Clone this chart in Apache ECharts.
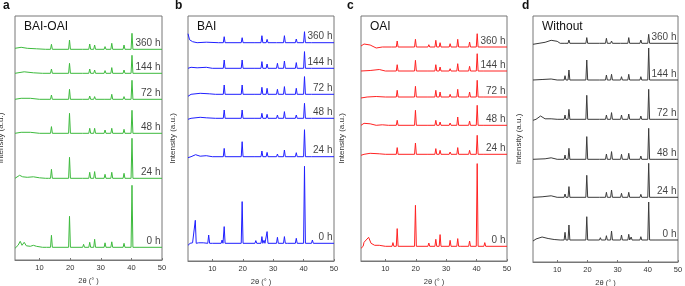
<!DOCTYPE html>
<html><head><meta charset="utf-8">
<script src="https://cdn.jsdelivr.net/npm/echarts@6/dist/echarts.min.js"></script>
<style>html,body{margin:0;padding:0;background:#fff}#c{width:685px;height:286px}</style>
</head><body><div id="c"></div>
<script>
// ---------------- data ----------------
const panelLetters = ['a', 'b', 'c', 'd'];
const panelTitles = ['BAI-OAI', 'BAI', 'OAI', 'Without'];
const timeLabels = ['360 h', '144 h', '72 h', '48 h', '24 h', '0 h'];
const xTickValues = [10, 20, 30, 40, 50];

// trace baselines (stack offsets, a.u.)
const offsetsA = [210.7, 186.7, 160.7, 126.7, 81.7, 12.7];
const offsetsB = [218.3, 192.7, 166.7, 142.7, 104.3, 17.7];
const offsetsC = [214, 190, 164, 135.7, 106.7, 14.7];
const offsetsD = [218.7, 182, 142.7, 102.7, 64.7, 22];

// peak positions (2θ) per panel
const peaksA = [12.6, 13.9, 19.8, 24.4, 26.4, 28.0, 31.4, 33.6, 37.6, 40.2, 42.8];
const peaksB = [4.4, 8.8, 13.2, 13.9, 19.8, 24.3, 26.3, 27.0, 28.0, 31.4, 33.7, 34.5, 37.6, 40.3, 42.9];
const peaksC = [12.5, 13.9, 19.9, 24.3, 26.6, 28.0, 31.3, 33.8, 34.5, 37.7, 40.2, 42.7];
const peaksD = [12.6, 13.9, 19.8, 24.3, 26.3, 28.0, 31.3, 33.7, 34.5, 37.7, 40.3, 42.7];

// peak heights per trace (360h, 144h, 72h, 48h, 24h, 0h)
const heightsA = [
  [0, 5, 9.3, 1, 5.3, 4.3, 2.7, 6, 4.3, 16, 0],
  [0, 4.3, 10, 1, 4.3, 3.3, 2.7, 5.7, 3.3, 18, 0],
  [0, 4.3, 10, 1, 3.3, 2.7, 2, 5, 2.7, 19, 0],
  [0, 6.7, 20, 1, 5, 5, 3.3, 5, 4, 23, 0.5],
  [0.5, 9, 21, 2, 6, 6.7, 4, 6, 5, 40, 1.5],
  [2, 12, 31, 3, 5, 8, 4.5, 5.5, 4, 62, 2]
];
const heightsB = [
  [0, 0, 0, 6, 5, 2, 7, 0, 3.3, 2, 7, 0, 3.7, 11, 1],
  [0, 0, 0, 8.3, 8.3, 1.7, 6.7, 0, 4.3, 5, 7.3, 0, 5.7, 16.7, 1.7],
  [0, 0, 0, 9.3, 9.3, 1.5, 7, 0, 6, 5, 7.7, 0, 6, 17.7, 1],
  [0, 0, 0, 8.3, 8.3, 1, 5, 0, 4, 3.3, 6.7, 0, 3.3, 15, 1],
  [0, 0, 0, 8.3, 15, 1, 5.7, 0, 4.3, 2.7, 6.7, 0, 4, 27, 1],
  [23, 8.3, 3.3, 16.7, 41.7, 2.7, 6.7, 3, 11.7, 6, 6.7, 2, 5, 77, 3.3]
];
const heightsC = [
  [0, 6, 7.7, 2.3, 6.7, 4.3, 3.3, 7.7, 0, 5, 13.3, 1],
  [0, 6.3, 10.7, 1.7, 6.3, 4, 2.3, 7.3, 0, 4.7, 17.3, 1],
  [0, 6.7, 10.7, 1.5, 6.7, 5, 2.7, 7.7, 0, 5, 16.7, 1],
  [0, 5, 15, 1, 5, 3.3, 2.3, 8.3, 0, 4.3, 20, 1],
  [0, 6.7, 11.3, 1.5, 5.7, 4, 2.3, 6.7, 0, 4, 19, 1],
  [3.7, 17.7, 41, 3.3, 7, 11.7, 6, 7.7, 2, 5.3, 82.7, 3.7]
];
const heightsD = [
  [1.7, 3.3, 5.7, 1.5, 5, 2.3, 1.5, 5.7, 0, 3.3, 9, 0],
  [4.3, 10, 20, 1.7, 5, 5.7, 3.3, 5.7, 0, 3.3, 32, 0.5],
  [4.3, 10, 24, 1.7, 4.3, 6.7, 4.3, 5.3, 0, 3.3, 30, 0.5],
  [4.3, 11, 22.7, 2, 5.3, 7.7, 5, 6, 0, 3.3, 31, 1],
  [3.3, 10.7, 22, 1.7, 5, 7.3, 4, 5, 0, 3, 34, 1],
  [7.7, 15, 23.3, 2.3, 4.3, 9, 5, 5.7, 3, 3.3, 38, 1.7]
];

// background (amorphous humps) per trace: [2θ, level above baseline]
const bgA = [
  [[2, 1], [4, 2], [6, 1], [9, 0.5], [12, 0], [50, 0]],
  [[2, 0], [5, 1.5], [8, 0.5], [11, 0], [50, 0]],
  [[2, 0], [4, 1], [7, 1], [10, 0], [50, 0]],
  [[2, 0], [4, 1], [7, 1], [10, 0], [50, 0]],
  [[2, 0], [3.5, 3], [4.5, 1.5], [6, 1], [8, 1.5], [10, 0.5], [12, 0], [50, 0]],
  [[2, -1], [3, 2], [3.7, 6], [4.3, 2], [5, 5], [5.7, 1.5], [7, 1], [8, 2], [9, 1], [11, 0], [50, 0]]
];
const bgB = [
  [[2, 9], [2.5, 3], [3.5, 1], [5, 0], [8, 0.5], [12, 0], [50, 0]],
  [[2, 0], [3, 1], [5, 0.5], [8, 1], [10, 0], [50, 0]],
  [[2, -2], [3, 0], [6, 1], [9, 0.5], [11, 0], [50, 0]],
  [[2, -1], [3, 0], [6, 1], [8, 0.5], [11, 0], [50, 0]],
  [[2, -1], [3, 0], [4.5, 2], [6, 0.5], [8, 1], [10, 0], [50, 0]],
  [[2, -2], [2.7, 0], [3.5, 0.5], [5.5, 0.5], [7, 0.5], [10, 0], [50, 0]]
];
const bgC = [
  [[2, 1], [3, 3], [5, 2], [7, -1], [9, 0], [12, 0], [50, 0]],
  [[2, 0], [5, 0.5], [8, 1.5], [10, 0], [50, 0]],
  [[2, -1], [4, 0], [7, 0.5], [10, 0], [50, 0]],
  [[2, 0], [3, 2], [5, 1.5], [7, 0], [9, 0.5], [11, 0], [50, 0]],
  [[2, -1], [3, 0], [5, 1], [8, 0.5], [10, 0], [50, 0]],
  [[2, -2], [2.7, 0], [3, 4], [3.6, 3], [4.5, 9], [5.3, 3], [6.5, 1], [8, 1], [10, 0], [50, 0]]
];
const bgD = [
  [[2, -1], [4, 0], [6, 1], [8, 3], [10, 2], [11, 0], [50, 0]],
  [[2, 0], [5, 0.5], [8, 1], [10, 0], [50, 0]],
  [[2, -1], [3, 0], [4.5, 3.3], [6, 0.5], [8, 0.5], [10, 0], [50, 0]],
  [[2, 0], [6, 0.5], [8, 1.5], [10, 0], [50, 0]],
  [[2, 0], [5, 0.5], [8, 1.5], [10, 0], [50, 0]],
  [[2, -1], [3, 1], [5, 3], [7, 1.5], [9, 0.5], [11, 0], [50, 0]]
];

// ---------------- layout / style ----------------
const panels = [
  {offsets: offsetsA, peaks: peaksA, heights: heightsA, bg: bgA, color: '#3dba3d',
   grid: {left: 15, top: 16, width: 147, height: 244}, yNameGap: 10, letterX: 3},
  {offsets: offsetsB, peaks: peaksB, heights: heightsB, bg: bgB, color: '#1f1fff',
   grid: {left: 188, top: 16, width: 146, height: 245}, yNameGap: 11, letterX: 175},
  {offsets: offsetsC, peaks: peaksC, heights: heightsC, bg: bgC, color: '#ff2222',
   grid: {left: 361, top: 16, width: 146, height: 245}, yNameGap: 15, letterX: 347},
  {offsets: offsetsD, peaks: peaksD, heights: heightsD, bg: bgD, color: '#3a3a3a',
   grid: {left: 533, top: 16, width: 145, height: 246}, yNameGap: 10, letterX: 522}
];
const FONT = 'Liberation Sans, Arial, sans-serif';
const PEAK_HALF_WIDTH = 0.3;

function buildTrace(bg, positions, heights, offset) {
  const pts = bg.map(([x, dy]) => [x, offset + dy]);
  positions.forEach((p, i) => {
    const h = heights[i];
    if (h > 0) {
      pts.push([p - PEAK_HALF_WIDTH, offset], [p, offset + h], [p + PEAK_HALF_WIDTH, offset]);
    }
  });
  pts.sort((a, b) => a[0] - b[0]);
  return pts;
}

const grids = [], xAxes = [], yAxes = [], series = [], graphics = [];
panels.forEach((pn, k) => {
  grids.push(Object.assign({show: true, borderColor: '#777', borderWidth: 1, backgroundColor: 'transparent',
    containLabel: false, outerBoundsMode: 'none'}, pn.grid));
  xAxes.push({
    type: 'value', gridIndex: k, min: 2, max: 50,
    axisLine: {show: true, lineStyle: {color: '#777', width: 1}},
    axisTick: {show: true, inside: true, length: 2, customValues: xTickValues, lineStyle: {color: '#777'}},
    axisLabel: {show: true, customValues: xTickValues, fontSize: 7.5, color: '#333', margin: 4, fontFamily: FONT},
    splitLine: {show: false},
    name: '2θ (° )', nameLocation: 'middle', nameGap: 16,
    nameTextStyle: {fontSize: 7.5, color: '#333', fontFamily: FONT}
  });
  yAxes.push({
    type: 'value', gridIndex: k, min: 0, max: pn.grid.height,
    axisLine: {show: false}, axisTick: {show: false}, axisLabel: {show: false}, splitLine: {show: false},
    name: 'Intensity (a.u.)', nameLocation: 'middle', nameGap: pn.yNameGap,
    nameTextStyle: {fontSize: 8, color: '#333', fontFamily: FONT}
  });
  pn.offsets.forEach((off, t) => {
    series.push({
      type: 'line', xAxisIndex: k, yAxisIndex: k, showSymbol: false, symbol: 'none',
      lineStyle: {color: pn.color, width: 1}, animation: false, silent: true,
      data: buildTrace(pn.bg[t], pn.peaks, pn.heights[t], off)
    });
  });
  series.push({
    type: 'scatter', xAxisIndex: k, yAxisIndex: k, symbolSize: 0, animation: false, silent: true,
    data: pn.offsets.map((off, t) => [50, off + 6, timeLabels[t]]),
    label: {show: true, position: 'left', distance: 1.5, formatter: p => p.data[2],
            fontSize: 10, color: '#111', fontFamily: FONT}
  });
  graphics.push({type: 'text', left: pn.letterX, top: 0,
    style: {text: panelLetters[k], font: 'bold 12px ' + FONT, fill: '#111'}});
  graphics.push({type: 'text', left: pn.grid.left + 9, top: 21,
    style: {text: panelTitles[k], font: '12px ' + FONT, fill: '#111'}});
});

const chart = echarts.init(document.getElementById('c'), null, {renderer: 'canvas'});
chart.setOption({
  animation: false,
  grid: grids, xAxis: xAxes, yAxis: yAxes, series: series, graphic: graphics
});
</script></body></html>
